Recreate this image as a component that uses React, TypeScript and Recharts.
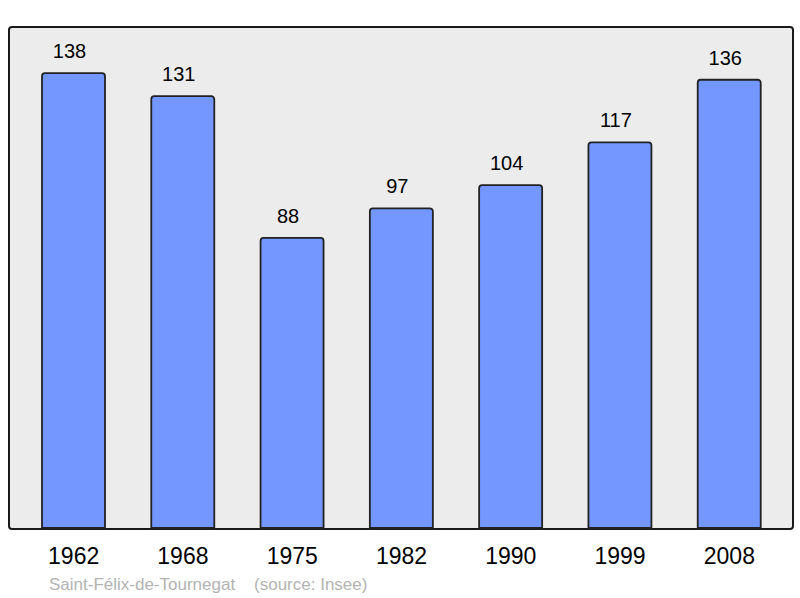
import React from 'react';
import { BarChart, Bar, XAxis, YAxis, LabelList } from 'recharts';

const years = ['1962', '1968', '1975', '1982', '1990', '1999', '2008'];
const population = [138, 131, 88, 97, 104, 117, 136];

const data = years.map((year, i) => ({ year, population: population[i] }));

const FONT = '"Liberation Sans", Arial, sans-serif';

const App: React.FC = () => {
  return (
    <div style={{ position: 'absolute', left: 0, top: 0, width: 800, height: 598, background: '#fff' }}>
      {/* plot frame behind the svg */}
      <div
        style={{
          position: 'absolute',
          left: 8,
          top: 26,
          width: 782,
          height: 500,
          background: '#ececec',
          border: '2px solid #1a1a1a',
          borderRadius: 4,
        }}
      />
      <div style={{ position: 'absolute', left: 0, top: 0 }}>
        <BarChart
          width={800}
          height={598}
          data={data}
          margin={{ top: 27, right: 8, bottom: 40, left: 9 }}
          barCategoryGap={0}
        >
          <XAxis
            dataKey="year"
            axisLine={false}
            tickLine={false}
            tickSize={0}
            tickMargin={20}
            padding={{ left: 10, right: 8 }}
            tick={{ fill: '#000', fontSize: 23, fontFamily: FONT }}
            interval={0}
          />
          <YAxis hide domain={[0, 152]} type="number" />
          <Bar
            dataKey="population"
            fill="#7397ff"
            stroke="#222"
            strokeWidth={1.8}
            barSize={63}
            radius={[3, 3, 0, 0]}
            isAnimationActive={false}
          >
            <LabelList
              dataKey="population"
              position="top"
              offset={15}
              dx={-4}
              style={{ fill: '#000', fontSize: 20, fontFamily: FONT }}
            />
          </Bar>
        </BarChart>
      </div>
      <div
        style={{
          position: 'absolute',
          left: 49,
          top: 575,
          fontFamily: FONT,
          fontSize: 17,
          color: '#b3b3b3',
          whiteSpace: 'pre',
        }}
      >
        {'Saint-Félix-de-Tournegat    (source: Insee)'}
      </div>
    </div>
  );
};

export default App;
